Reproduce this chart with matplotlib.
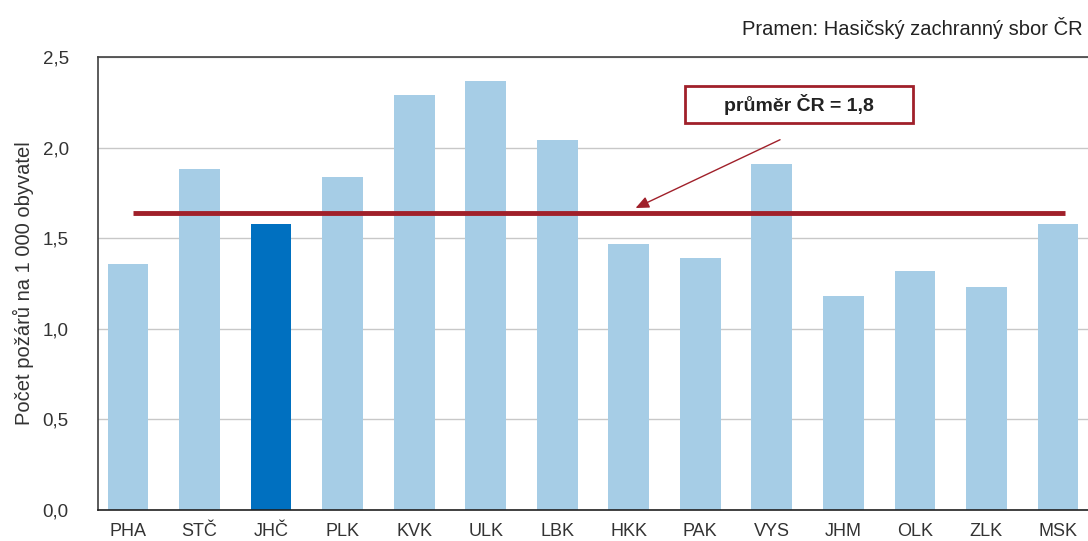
import matplotlib
matplotlib.use("Agg")
import matplotlib.pyplot as plt
from matplotlib.patches import Rectangle

categories = ["PHA", "STČ", "JHČ", "PLK", "KVK", "ULK", "LBK", "HKK", "PAK", "VYS", "JHM", "OLK", "ZLK", "MSK"]
values = [1.36, 1.88, 1.58, 1.84, 2.29, 2.37, 2.04, 1.47, 1.39, 1.91, 1.18, 1.32, 1.23, 1.58]
highlight = "JHČ"
average_line = 1.64
average_label = "průměr ČR = 1,8"
y_ticks = [0.0, 0.5, 1.0, 1.5, 2.0, 2.5]
y_label = "Počet požárů na 1 000 obyvatel"
source = "Pramen: Hasičský zachranný sbor ČR"

plt.rcParams['font.family'] = ['Liberation Sans', 'DejaVu Sans']

fig = plt.figure(figsize=(10.88, 5.41), dpi=100)
ax = fig.add_axes([98/1088, 1 - 510/541, 1 - 98/1088, (510 - 57)/541])

x = list(range(len(categories)))
colors = ["#0070C0" if c == highlight else "#A6CDE6" for c in categories]
ax.bar(x, values, width=0.57, color=colors, zorder=2)

ax.set_xlim(-0.42, len(categories) - 1 + 0.42)
ax.set_ylim(0, 2.5)
ax.set_yticks(y_ticks)
ax.set_yticklabels([f"{t:.1f}".replace(".", ",") for t in y_ticks], fontsize=13.5, color="#333333")
ax.set_xticks(x)
ax.set_xticklabels(categories, fontsize=13, color="#333333")
ax.tick_params(axis="x", length=0, pad=9)
ax.tick_params(axis="y", length=0, pad=21)
ax.yaxis.grid(True, color="#C8C8C8", linewidth=1, zorder=0)
ax.set_axisbelow(True)

for s in ["left", "top"]:
    ax.spines[s].set_color("#404040")
    ax.spines[s].set_linewidth(1.2)
ax.spines["bottom"].set_color("#202020")
ax.spines["bottom"].set_linewidth(1.2)
ax.spines["right"].set_visible(False)

ax.set_ylabel(y_label, fontsize=14.5, color="#333333", labelpad=6)

ax.hlines(average_line, 0.07, 13.1, color="#A0202A", linewidth=3.5, zorder=3)

ax.annotate("", xy=(7.06, average_line + 0.02), xytext=(9.15, 2.05),
            arrowprops=dict(arrowstyle="-|>,head_length=0.8,head_width=0.35",
                            color="#A0202A", lw=1.0), zorder=4)
box = Rectangle((0.593, 0.854), 0.23, 0.082, transform=ax.transAxes,
                facecolor="white", edgecolor="#A0202A", linewidth=2.0, zorder=5)
ax.add_patch(box)
ax.text(0.593 + 0.115, 0.854 + 0.041, average_label, transform=ax.transAxes,
        ha="center", va="center", fontsize=14, fontweight="bold",
        color="#222222", zorder=6)

fig.text(1083/1088, 1 - 28/541, source, ha="right", va="center", fontsize=14.5, color="#222222")

fig.savefig("out.png", dpi=100)
